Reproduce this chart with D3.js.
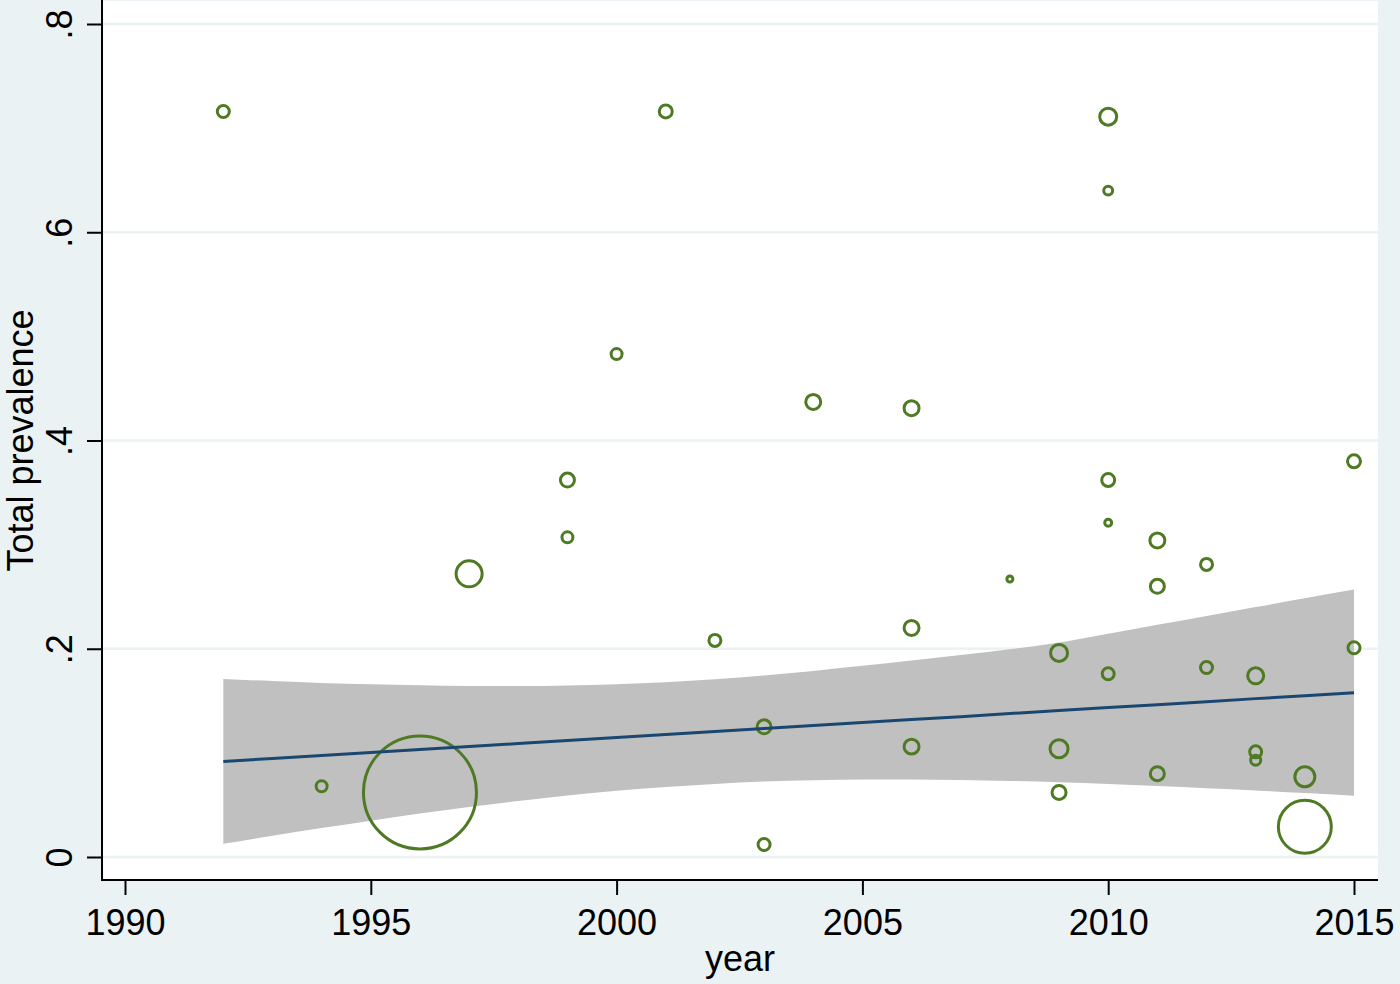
<!DOCTYPE html>
<html>
<head>
<meta charset="utf-8">
<script src="https://cdn.jsdelivr.net/npm/d3@7"></script>
<style>
  html, body { margin: 0; padding: 0; background: #EAF2F3; }
  svg { display: block; }
  text { font-family: "Liberation Sans", Arial, sans-serif; fill: #000; }
</style>
</head>
<body>
<svg id="chart" width="1400" height="984"></svg>
<script>
// ---- data ----
const pointYears = [1992, 1994, 1996, 1997, 1999, 1999, 2000, 2001, 2002, 2003, 2003, 2004,
                    2006, 2006, 2006, 2008, 2009, 2009, 2009, 2010, 2010, 2010, 2010, 2010,
                    2011, 2011, 2011, 2012, 2012, 2013, 2013, 2013, 2014, 2014, 2015, 2015];
const pointPrevalence = [0.716, 0.068, 0.062, 0.272, 0.362, 0.307, 0.483, 0.716, 0.208, 0.125, 0.012, 0.437,
                         0.431, 0.220, 0.106, 0.267, 0.196, 0.104, 0.062, 0.711, 0.640, 0.362, 0.321, 0.176,
                         0.304, 0.260, 0.080, 0.281, 0.182, 0.174, 0.101, 0.093, 0.077, 0.029, 0.380, 0.201];
const pointWeight = [36, 30, 3192, 169, 49, 30, 30, 42, 36, 49, 36, 56,
                     56, 56, 56, 9, 72, 81, 49, 72, 20, 42, 12, 36,
                     56, 49, 49, 36, 36, 64, 36, 25, 100, 702, 42, 36];

const fitYears = [1992, 1993, 1994, 1995, 1996, 1997, 1998, 1999, 2000, 2001, 2002, 2003,
                  2004, 2005, 2006, 2007, 2008, 2009, 2010, 2011, 2012, 2013, 2014, 2015];
const fitValue = [0.0918, 0.0947, 0.0975, 0.1004, 0.1033, 0.1061, 0.1090, 0.1119, 0.1148, 0.1176, 0.1205, 0.1234,
                  0.1262, 0.1291, 0.1320, 0.1348, 0.1377, 0.1406, 0.1435, 0.1463, 0.1492, 0.1521, 0.1549, 0.1578];
const ciUpper = [0.1709, 0.1690, 0.1672, 0.1659, 0.1649, 0.1642, 0.1642, 0.1648, 0.1660, 0.1679, 0.1708, 0.1744,
                 0.1787, 0.1836, 0.1888, 0.1940, 0.1995, 0.2060, 0.2145, 0.2230, 0.2315, 0.2400, 0.2484, 0.2568];
const ciLower = [0.0127, 0.0204, 0.0278, 0.0349, 0.0417, 0.0480, 0.0538, 0.0590, 0.0636, 0.0673, 0.0702, 0.0724,
                 0.0737, 0.0744, 0.0745, 0.0740, 0.0731, 0.0718, 0.0702, 0.0682, 0.0661, 0.0639, 0.0614, 0.0588];

const xTicks = [1990, 1995, 2000, 2005, 2010, 2015];
const yTicks = [0, 0.2, 0.4, 0.6, 0.8];
const yTickLabels = ["0", ".2", ".4", ".6", ".8"];
const xTitle = "year";
const yTitle = "Total prevalence";

// ---- layout ----
const svg = d3.select("#chart");
const plot = {left: 102, right: 1378, top: 1, bottom: 880};

const x = d3.scaleLinear().domain([1990, 2015]).range([125, 1354]);
const y = d3.scaleLinear().domain([0, 0.8]).range([857, 24]);
const r = d3.scaleSqrt().domain([0, d3.max(pointWeight)]).range([0, 56.5]);

svg.append("rect").attr("width", 1400).attr("height", 984).attr("fill", "#EAF2F3");
svg.append("rect")
  .attr("x", plot.left).attr("y", plot.top)
  .attr("width", plot.right - plot.left).attr("height", plot.bottom - plot.top)
  .attr("fill", "#ffffff");

// gridlines
svg.append("g").selectAll("line").data(yTicks).join("line")
  .attr("x1", plot.left + 1).attr("x2", plot.right)
  .attr("y1", d => y(d)).attr("y2", d => y(d))
  .attr("stroke", "#EAF2F3").attr("stroke-width", 2.5);

// CI band
const band = fitYears.map((yr, i) => ({yr, lo: ciLower[i], hi: ciUpper[i], fit: fitValue[i]}));
svg.append("path").datum(band)
  .attr("fill", "#C0C0C0")
  .attr("d", d3.area().x(d => x(d.yr)).y0(d => y(d.lo)).y1(d => y(d.hi)).curve(d3.curveMonotoneX));

// scatter
const pts = pointYears.map((yr, i) => ({yr, v: pointPrevalence[i], w: pointWeight[i]}));
svg.append("g").selectAll("circle").data(pts).join("circle")
  .attr("cx", d => x(d.yr)).attr("cy", d => y(d.v)).attr("r", d => r(d.w))
  .attr("fill", "none").attr("stroke", "#4F7A24").attr("stroke-width", 3);

// fitted line
svg.append("path").datum(band)
  .attr("fill", "none").attr("stroke", "#1A476F").attr("stroke-width", 3)
  .attr("d", d3.line().x(d => x(d.yr)).y(d => y(d.fit)));

// axes lines
svg.append("line").attr("x1", plot.left).attr("x2", plot.left)
  .attr("y1", 0).attr("y2", plot.bottom + 1).attr("stroke", "#000").attr("stroke-width", 2);
svg.append("line").attr("x1", plot.left - 1).attr("x2", plot.right)
  .attr("y1", plot.bottom).attr("y2", plot.bottom).attr("stroke", "#000").attr("stroke-width", 2);

// y axis ticks
const yAxis = svg.append("g").attr("transform", `translate(${plot.left},0)`)
  .call(d3.axisLeft(y).tickValues(yTicks).tickSize(15).tickFormat((d, i) => yTickLabels[i]));
yAxis.select(".domain").remove();
yAxis.selectAll(".tick line").attr("stroke", "#000").attr("stroke-width", 2);
yAxis.selectAll(".tick text")
  .attr("x", null).attr("dy", null)
  .attr("transform", "translate(-30,0) rotate(-90)")
  .attr("text-anchor", "middle")
  .style("font-size", "36px").style("font-family", "'Liberation Sans', Arial, sans-serif");

// x axis ticks
const xAxis = svg.append("g").attr("transform", `translate(0,${plot.bottom})`)
  .call(d3.axisBottom(x).tickValues(xTicks).tickSize(15).tickFormat(d3.format("d")));
xAxis.select(".domain").remove();
xAxis.selectAll(".tick line").attr("stroke", "#000").attr("stroke-width", 2);
xAxis.selectAll(".tick text")
  .attr("y", 55).attr("dy", null)
  .style("font-size", "36px").style("font-family", "'Liberation Sans', Arial, sans-serif");

// titles
svg.append("text").attr("x", (plot.left + plot.right) / 2).attr("y", 971)
  .attr("text-anchor", "middle").style("font-size", "36px").text(xTitle);
svg.append("text").attr("transform", `translate(33,${(plot.top + plot.bottom) / 2}) rotate(-90)`)
  .attr("text-anchor", "middle").style("font-size", "36px").text(yTitle);
</script>
</body>
</html>
